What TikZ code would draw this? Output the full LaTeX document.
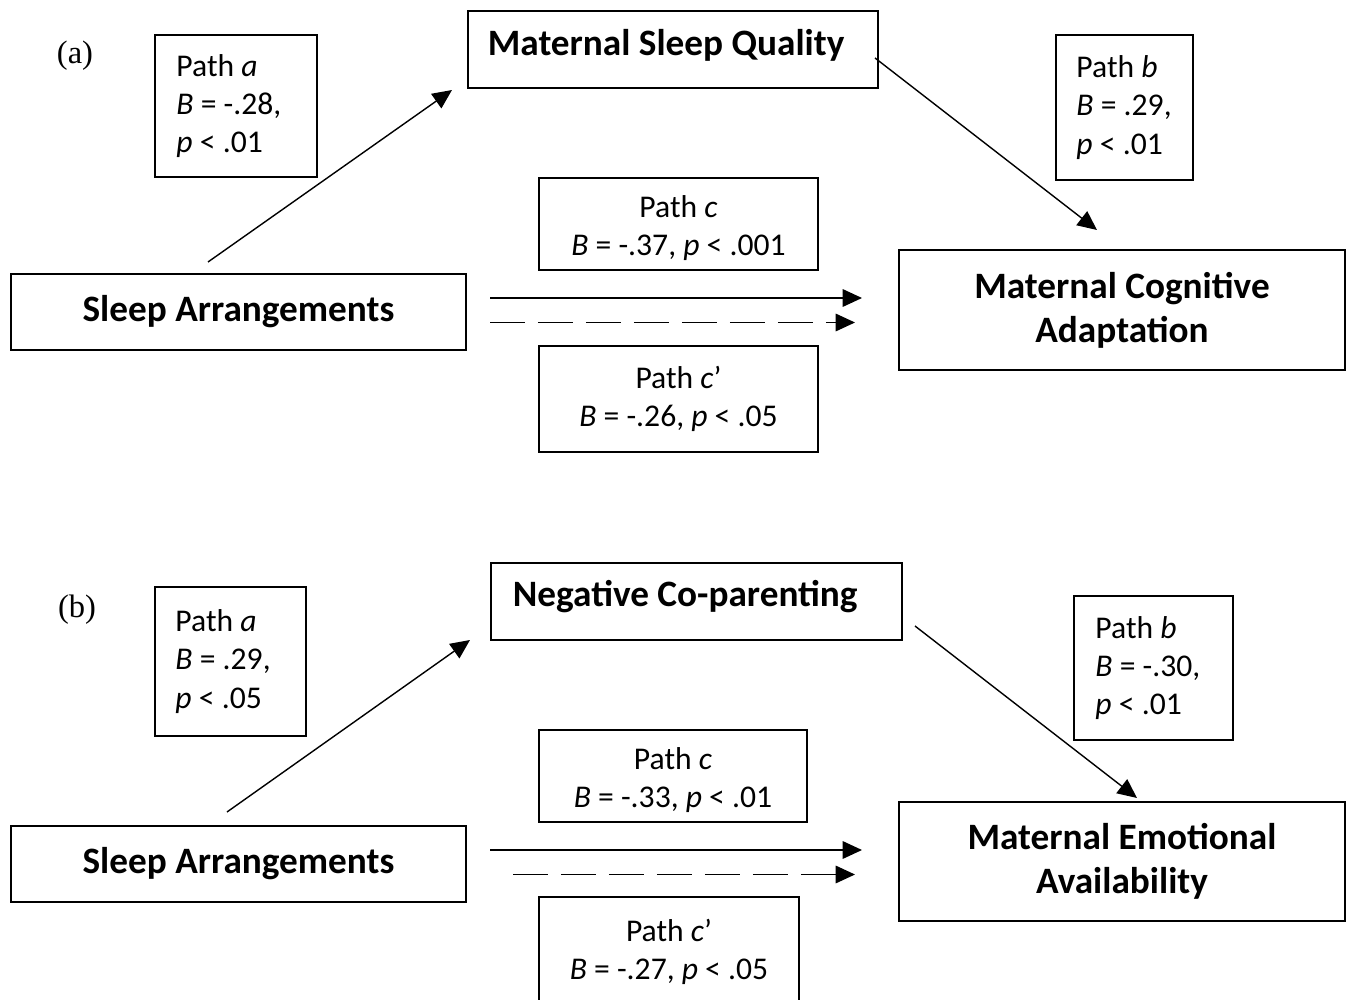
\documentclass[tikz,border=0pt]{standalone}
\usepackage{fontspec}
\setmainfont{Carlito}
\newfontfamily\timesfont{Liberation Serif}
\usepackage{tikz}
\usetikzlibrary{arrows.meta, positioning, calc}
\newcommand{\pxu}{0.02cm}

\begin{document}
\begin{tikzpicture}[x=0.02cm, y=-0.02cm,
  titlebox/.style={draw, line width=1pt, font=\bfseries\fontsize{21.2}{25}\selectfont, align=center, inner sep=0pt},
  pathbox/.style={draw, line width=1pt, inner sep=0pt},
  pathtext/.style={anchor=west, align=left, inner sep=0pt, font=\fontsize{18}{21.8}\selectfont},
  panel/.style={font=\timesfont\fontsize{18.5}{22}\selectfont},
  arr/.style={line width=0.8pt, -{Triangle[length=11pt,width=10pt]}},
  dasharr/.style={arr, dash pattern=on 0.7cm off 0.26cm}]
  \useasboundingbox (0,0) rectangle (1346,1000);
  \clip (0,0) rectangle (1346,1000);

  % ---------- panel (a) ----------
  \node[panel] (la) at (75,56) {(a)};

  % Boxes
  \node[titlebox, anchor=north west, align=flush left, inner xsep=20*\pxu,
        text width=370*\pxu, text height=45*\pxu, text depth=32*\pxu] (msq) at (467,10) {Maternal Sleep Quality};
  \node[titlebox, minimum width=455*\pxu, minimum height=76*\pxu] (sa1) at (238.5,312) {Sleep Arrangements};
  \node[titlebox, minimum width=446*\pxu, minimum height=120*\pxu] (mca) at (1122,310) {Maternal Cognitive\\Adaptation};

  % Path labels
  \node[pathbox, minimum width=162*\pxu, minimum height=142*\pxu] (pa1) at (236,106) {};
  \node[pathtext] (pa1t) at ([xshift=22*\pxu]pa1.west) {Path \textit{a}\\\textit{B} = -.28,\\\textit{p} < .01};
  \node[pathbox, minimum width=137*\pxu, minimum height=145*\pxu] (pb1) at (1124.5,107.5) {};
  \node[pathtext] (pb1t) at ([xshift=21*\pxu]pb1.west) {Path \textit{b}\\\textit{B} = .29,\\\textit{p} < .01};
  \node[pathbox, minimum width=279*\pxu, minimum height=92*\pxu] (pc1) at (678.5,224) {};
  \node[pathtext, anchor=center, align=center] (pc1t) at ([yshift=-4*\pxu]pc1.center)
    {Path \textit{c}\\\textit{B} = -.37, \textit{p} < .001};
  \node[pathbox, minimum width=279*\pxu, minimum height=106*\pxu] (pd1) at (678.5,399) {};
  \node[pathtext, anchor=center, align=center] (pd1t) at (pd1.center)
    {Path \textit{c}’\\\textit{B} = -.26, \textit{p} < .05};

  % Arrows
  \coordinate (a1s) at (208,262);
  \coordinate (a1e) at (452,90);
  \coordinate (b1s) at (875,58);
  \coordinate (b1e) at (1097,230);
  \coordinate (c1s) at (490,298);
  \coordinate (c1e) at (862,298);
  \coordinate (d1s) at (490,322.5);
  \coordinate (d1e) at (855,322.5);
  \draw[arr] (a1s) -- (a1e);
  \draw[arr] (b1s) -- (b1e);
  \draw[arr] (c1s) -- (c1e);
  \draw[dasharr] (d1s) -- (d1e);

  % ---------- panel (b) ----------
  \node[panel] (lb) at (77,610) {(b)};

  % Boxes
  \node[titlebox, anchor=north west, align=flush left, inner xsep=22*\pxu,
        text width=367*\pxu, text height=44*\pxu, text depth=33*\pxu] (nc) at (490,562) {Negative Co-parenting};
  \node[titlebox, minimum width=455*\pxu, minimum height=76*\pxu] (sa2) at (238.5,864) {Sleep Arrangements};
  \node[titlebox, minimum width=446*\pxu, minimum height=119*\pxu] (mea) at (1122,861.5) {Maternal Emotional\\Availability};

  % Path labels
  \node[pathbox, minimum width=151*\pxu, minimum height=149*\pxu] (pa2) at (230.5,661.5) {};
  \node[pathtext] (pa2t) at ([xshift=21*\pxu]pa2.west) {Path \textit{a}\\\textit{B} = .29,\\\textit{p} < .05};
  \node[pathbox, minimum width=159*\pxu, minimum height=144*\pxu] (pb2) at (1153.5,668) {};
  \node[pathtext] (pb2t) at ([xshift=22*\pxu]pb2.west) {Path \textit{b}\\\textit{B} = -.30,\\\textit{p} < .01};
  \node[pathbox, minimum width=268*\pxu, minimum height=92*\pxu] (pc2) at (673,776) {};
  \node[pathtext, anchor=center, align=center] (pc2t) at ([yshift=-4*\pxu]pc2.center)
    {Path \textit{c}\\\textit{B} = -.33, \textit{p} < .01};
  \node[pathbox, minimum width=260*\pxu, minimum height=110*\pxu] (pd2) at (669,952) {};
  \node[pathtext, anchor=center, align=center] (pd2t) at (pd2.center)
    {Path \textit{c}’\\\textit{B} = -.27, \textit{p} < .05};

  % Arrows
  \coordinate (a2s) at (227,812);
  \coordinate (a2e) at (470,640);
  \coordinate (b2s) at (915,626);
  \coordinate (b2e) at (1137,798);
  \coordinate (c2s) at (490,850);
  \coordinate (c2e) at (862,850);
  \coordinate (d2s) at (513,874.5);
  \coordinate (d2e) at (855,874.5);
  \draw[arr] (a2s) -- (a2e);
  \draw[arr] (b2s) -- (b2e);
  \draw[arr] (c2s) -- (c2e);
  \draw[dasharr] (d2s) -- (d2e);
\end{tikzpicture}
\end{document}
